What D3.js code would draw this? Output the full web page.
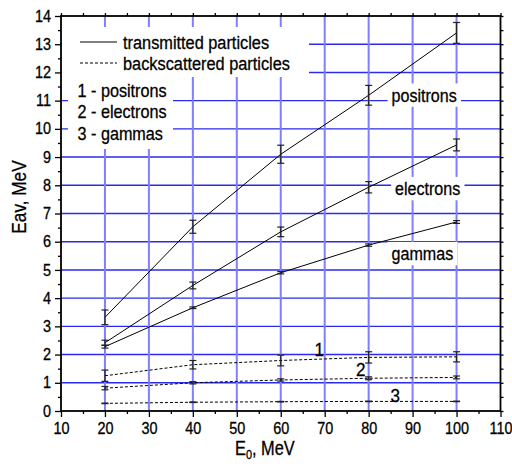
<!DOCTYPE html>
<html>
<head>
<meta charset="utf-8">
<script src="https://cdn.jsdelivr.net/npm/d3@7"></script>
<style>
  html, body { margin: 0; padding: 0; background: #fff; }
  svg { display: block; font-family: "Liberation Sans", Arial, sans-serif; }
  svg text { stroke: #000; stroke-width: 0.3px; }
</style>
</head>
<body>
<svg id="chart" width="512" height="464"></svg>
<script>
// Primary beam energy, MeV
const energies = [20, 40, 60, 80, 100];

// Mean energy of transmitted particles, MeV
const transPositrons = [3.32, 6.53, 9.10, 11.19, 13.40];
const transPositronsErr = [0.26, 0.23, 0.32, 0.35, 0.37];
const transElectrons = [2.42, 4.45, 6.35, 7.93, 9.43];
const transElectronsErr = [0.09, 0.12, 0.17, 0.20, 0.21];
const transGammas = [2.28, 3.66, 4.90, 5.88, 6.70];
const transGammasErr = [0.05, 0.03, 0.04, 0.04, 0.05];

// Mean energy of backscattered particles, MeV
const backPositrons = [1.25, 1.64, 1.79, 1.90, 1.92];
const backPositronsErr = [0.20, 0.15, 0.19, 0.20, 0.18];
const backElectrons = [0.81, 1.00, 1.10, 1.16, 1.19];
const backElectronsErr = [0.06, 0.04, 0.04, 0.05, 0.05];
const backGammas = [0.27, 0.31, 0.33, 0.34, 0.34];
const backGammasErr = [0.01, 0.01, 0.01, 0.01, 0.01];

const xTicks = [10, 20, 30, 40, 50, 60, 70, 80, 90, 100, 110];
const yTicks = [0, 1, 2, 3, 4, 5, 6, 7, 8, 9, 10, 11, 12, 13, 14];

const series = [
  { name: "positrons", values: transPositrons, err: transPositronsErr, dashed: false },
  { name: "electrons", values: transElectrons, err: transElectronsErr, dashed: false },
  { name: "gammas", values: transGammas, err: transGammasErr, dashed: false },
  { name: "1", values: backPositrons, err: backPositronsErr, dashed: true },
  { name: "2", values: backElectrons, err: backElectronsErr, dashed: true },
  { name: "3", values: backGammas, err: backGammasErr, dashed: true }
];

const svg = d3.select("#chart");
const m = { left: 61, right: 500.5, top: 16, bottom: 411 };

const x = d3.scaleLinear().domain([10, 110]).range([m.left, m.right]);
const y = d3.scaleLinear().domain([0, 14]).range([m.bottom, m.top]);

// Text with slightly condensed glyphs: sx squeezes it horizontally.
function stext(parent, px, py, str, size, sx, anchor) {
  const g = parent.append("g").attr("transform", `translate(${px},${py}) scale(${sx},1)`);
  const t = g.append("text").attr("font-size", size).attr("fill", "#000")
    .attr("text-anchor", anchor || "start").text(str);
  return { g, t };
}

// grid
const grid = svg.append("g");
grid.selectAll("line.h").data(yTicks.slice(1, -1)).join("line")
  .attr("x1", m.left).attr("x2", m.right)
  .attr("y1", d => y(d)).attr("y2", d => y(d))
  .attr("stroke", "#2a2af0").attr("stroke-width", 1.4);
grid.selectAll("line.v").data(xTicks.slice(1, -1)).join("line")
  .attr("y1", m.top).attr("y2", m.bottom)
  .attr("x1", d => x(d)).attr("x2", d => x(d))
  .attr("stroke", "#7f7fff").attr("stroke-width", 2);

// white panels behind the legend
svg.append("rect").attr("x", m.left + 1).attr("y", 27).attr("width", 247).attr("height", 50).attr("fill", "#fff");
svg.append("rect").attr("x", 68).attr("y", 77).attr("width", 105).attr("height", 72).attr("fill", "#fff");

// in-plot labels, the curve names sit on white patches
const labels = [
  { text: "positrons", x: 391.5, y: 101.5, size: 18.5, sx: 0.87, box: true },
  { text: "electrons", x: 395, y: 195, size: 18.5, sx: 0.87, box: true },
  { text: "gammas", x: 391.5, y: 260, size: 18.5, sx: 0.87, box: true },
  { text: "1", x: 314.5, y: 356, size: 19, sx: 0.9, box: false },
  { text: "2", x: 356, y: 376, size: 19, sx: 0.9, box: false },
  { text: "3", x: 390.5, y: 402, size: 19, sx: 0.9, box: false }
];
const lab = svg.append("g");
labels.forEach(l => {
  const { g, t } = stext(lab, l.x, l.y, l.text, l.size, l.sx);
  if (l.box) {
    const b = t.node().getBBox();
    g.insert("rect", "text").attr("x", b.x - 4.5).attr("y", b.y - 1)
      .attr("width", b.width + 9).attr("height", b.height + 2).attr("fill", "#fff");
  }
});

// data lines and error bars
const line = d3.line().x((d, i) => x(energies[i])).y(d => y(d));
const plot = svg.append("g");
series.forEach(s => {
  plot.append("path").attr("d", line(s.values)).attr("fill", "none")
    .attr("stroke", "#000").attr("stroke-width", 1)
    .attr("stroke-dasharray", s.dashed ? "3,2" : null);
  const eb = plot.append("g").attr("stroke", "#222").attr("stroke-width", 1.2);
  s.values.forEach((v, i) => {
    const cx = x(energies[i]);
    const y1 = y(v - s.err[i]), y2 = y(v + s.err[i]);
    eb.append("line").attr("x1", cx).attr("x2", cx).attr("y1", y1).attr("y2", y2);
    eb.append("line").attr("x1", cx - 3.5).attr("x2", cx + 3.5).attr("y1", y1).attr("y2", y1);
    eb.append("line").attr("x1", cx - 3.5).attr("x2", cx + 3.5).attr("y1", y2).attr("y2", y2);
  });
});

// axes
function styleAxis(g) {
  g.select(".domain").remove();
  g.selectAll(".tick line").attr("stroke", "#000").attr("stroke-width", 1.3);
  g.selectAll(".tick text").each(function () {
    const t = d3.select(this);
    const tx = +t.attr("x") || 0;
    t.attr("x", 0).attr("transform", `translate(${tx},0) scale(0.9,1)`)
      .attr("fill", "#000").attr("font-size", 16)
      .attr("font-family", "'Liberation Sans', Arial, sans-serif");
  });
}
const xMinor = d3.range(15, 110, 10);
const yMinor = d3.range(0.5, 14, 1);
const xAll = d3.range(10, 111, 5);
const yAll = d3.range(0, 14.01, 0.5);

svg.append("g").attr("transform", `translate(0,${m.bottom})`)
  .call(d3.axisBottom(x).tickValues(xTicks).tickSize(6).tickPadding(6)).call(styleAxis);
svg.append("g").attr("transform", `translate(0,${m.bottom})`)
  .call(d3.axisBottom(x).tickValues(xMinor).tickSize(3).tickFormat("")).call(styleAxis);
svg.append("g").attr("transform", `translate(0,${m.top})`)
  .call(d3.axisTop(x).tickValues(xAll).tickSize(3).tickFormat("")).call(styleAxis);
svg.append("g").attr("transform", `translate(${m.left},0)`)
  .call(d3.axisLeft(y).tickValues(yTicks).tickSize(6).tickPadding(4)).call(styleAxis);
svg.append("g").attr("transform", `translate(${m.left},0)`)
  .call(d3.axisLeft(y).tickValues(yMinor).tickSize(3).tickFormat("")).call(styleAxis);
svg.append("g").attr("transform", `translate(${m.right},0)`)
  .call(d3.axisRight(y).tickValues(yAll).tickSize(3).tickFormat("")).call(styleAxis);

// frame
svg.append("rect").attr("x", m.left).attr("y", m.top)
  .attr("width", m.right - m.left).attr("height", m.bottom - m.top)
  .attr("fill", "none").attr("stroke", "#000").attr("stroke-width", 1.8);

// legend
const leg = svg.append("g");
leg.append("line").attr("x1", 80).attr("x2", 117).attr("y1", 42).attr("y2", 42)
  .attr("stroke", "#000").attr("stroke-width", 1);
leg.append("line").attr("x1", 80).attr("x2", 117).attr("y1", 63).attr("y2", 63)
  .attr("stroke", "#000").attr("stroke-width", 1).attr("stroke-dasharray", "3,2");
stext(leg, 123, 48.5, "transmitted particles", 19, 0.86);
stext(leg, 123, 69.5, "backscattered particles", 19, 0.86);
stext(leg, 77.5, 96.7, "1 - positrons", 18.5, 0.875);
stext(leg, 77.5, 118, "2 - electrons", 18.5, 0.875);
stext(leg, 77.5, 140, "3 - gammas", 18.5, 0.875);

// axis titles
const yt = svg.append("g").attr("transform", "translate(25.5,197) rotate(-90) scale(0.86,1)");
yt.append("text").attr("text-anchor", "middle").attr("font-size", 20).attr("fill", "#000").text("Eav, MeV");

const xg = svg.append("g").attr("transform", "translate(235,454.5) scale(0.84,1)");
const xt = xg.append("text").attr("font-size", 19.5).attr("fill", "#000");
xt.append("tspan").text("E");
xt.append("tspan").attr("font-size", 13).attr("dy", 4).text("0");
xt.append("tspan").attr("dy", -4).text(", MeV");
</script>
</body>
</html>
